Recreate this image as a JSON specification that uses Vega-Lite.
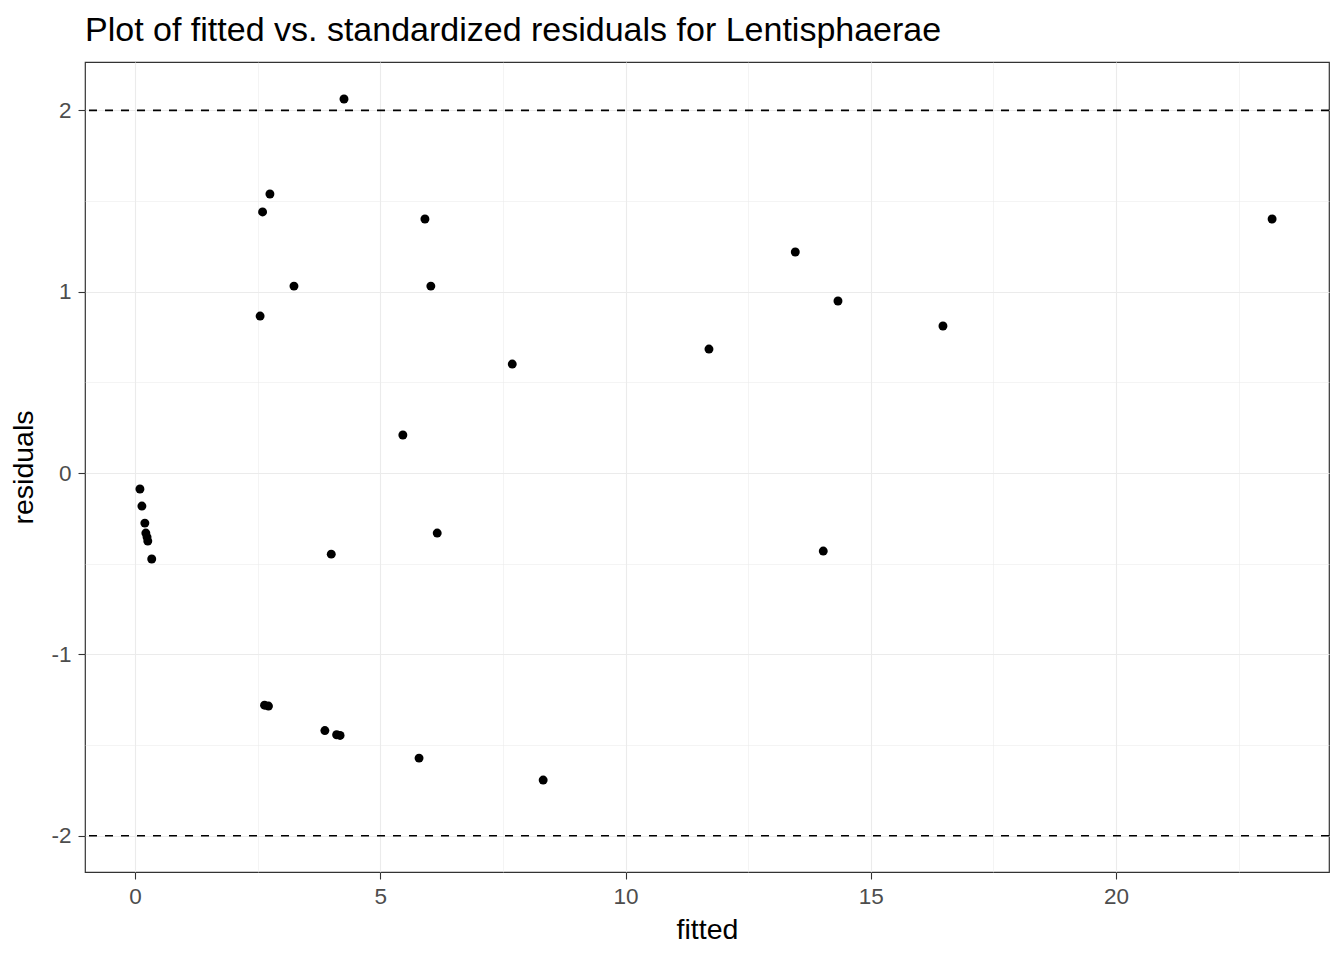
{
  "$schema": "https://vega.github.io/schema/vega-lite/v6.json",
  "autosize": {"type": "none"},
  "width": 1244,
  "height": 810,
  "padding": {"left": 85, "top": 62, "right": 15, "bottom": 88},
  "background": "white",
  "title": {
    "text": "Plot of fitted vs. standardized residuals for Lentisphaerae",
    "anchor": "start",
    "frame": "group",
    "font": "Liberation Sans",
    "fontSize": 34,
    "fontWeight": "normal",
    "color": "black",
    "offset": 14
  },
  "config": {
    "view": {"stroke": "#333333", "strokeWidth": 1.2},
    "axis": {
      "labelFont": "Liberation Sans",
      "titleFont": "Liberation Sans",
      "labelFontSize": 22.5,
      "titleFontSize": 28.5,
      "titleFontWeight": "normal",
      "labelColor": "#4D4D4D",
      "titleColor": "black",
      "domain": false,
      "gridColor": "#EBEBEB"
    }
  },
  "layer": [
    {
      "data": {"values": [{"y": 2}, {"y": -2}]},
      "mark": {"type": "rule", "color": "black", "strokeDash": [8, 8], "strokeWidth": 1.6},
      "encoding": {
        "y": {"field": "y", "type": "quantitative"}
      }
    },
    {
      "data": {"values": [
        {"fitted": 0.10, "residuals": -0.088},
        {"fitted": 0.14, "residuals": -0.182},
        {"fitted": 0.20, "residuals": -0.276},
        {"fitted": 0.22, "residuals": -0.331},
        {"fitted": 0.245, "residuals": -0.353},
        {"fitted": 0.26, "residuals": -0.375},
        {"fitted": 0.34, "residuals": -0.474},
        {"fitted": 2.64, "residuals": -1.28},
        {"fitted": 2.72, "residuals": -1.285},
        {"fitted": 3.87, "residuals": -1.42},
        {"fitted": 4.11, "residuals": -1.443},
        {"fitted": 4.18, "residuals": -1.447},
        {"fitted": 2.75, "residuals": 1.539},
        {"fitted": 2.60, "residuals": 1.44},
        {"fitted": 3.24, "residuals": 1.031},
        {"fitted": 2.55, "residuals": 0.866},
        {"fitted": 4.26, "residuals": 2.063},
        {"fitted": 5.91, "residuals": 1.401},
        {"fitted": 6.03, "residuals": 1.031},
        {"fitted": 7.69, "residuals": 0.601},
        {"fitted": 5.46, "residuals": 0.21},
        {"fitted": 4.00, "residuals": -0.447},
        {"fitted": 6.16, "residuals": -0.331},
        {"fitted": 5.79, "residuals": -1.572},
        {"fitted": 8.32, "residuals": -1.693},
        {"fitted": 11.70, "residuals": 0.684},
        {"fitted": 13.46, "residuals": 1.219},
        {"fitted": 14.33, "residuals": 0.949},
        {"fitted": 14.03, "residuals": -0.43},
        {"fitted": 16.47, "residuals": 0.811},
        {"fitted": 23.18, "residuals": 1.401}
      ]},
      "mark": {"type": "point", "filled": true, "size": 80, "color": "black", "opacity": 1},
      "encoding": {
        "x": {
          "field": "fitted", "type": "quantitative",
          "scale": {"domain": [-1.02, 24.34], "nice": false, "zero": false},
          "axis": {
            "values": [0, 2.5, 5, 7.5, 10, 12.5, 15, 17.5, 20, 22.5],
            "labelExpr": "datum.value % 5 === 0 ? toString(datum.value) : ''",
            "gridWidth": {"condition": {"test": "datum.value % 5 === 0", "value": 1.1}, "value": 0.55},
            "tickOpacity": {"condition": {"test": "datum.value % 5 === 0", "value": 1}, "value": 0},
            "tickColor": "#333333",
            "tickSize": 7,
            "tickWidth": 1.1,
            "labelPadding": 6,
            "title": "fitted",
            "titlePadding": 8
          }
        },
        "y": {
          "field": "residuals", "type": "quantitative",
          "scale": {"domain": [-2.2, 2.267], "nice": false, "zero": false},
          "axis": {
            "values": [-2, -1.5, -1, -0.5, 0, 0.5, 1, 1.5, 2],
            "labelExpr": "datum.value % 1 === 0 ? toString(datum.value) : ''",
            "gridWidth": {"condition": {"test": "datum.value % 1 === 0", "value": 1.1}, "value": 0.55},
            "tickOpacity": {"condition": {"test": "datum.value % 1 === 0", "value": 1}, "value": 0},
            "tickColor": "#333333",
            "tickSize": 7,
            "tickWidth": 1.1,
            "labelPadding": 7,
            "title": "residuals",
            "titlePadding": 12
          }
        }
      }
    }
  ]
}
